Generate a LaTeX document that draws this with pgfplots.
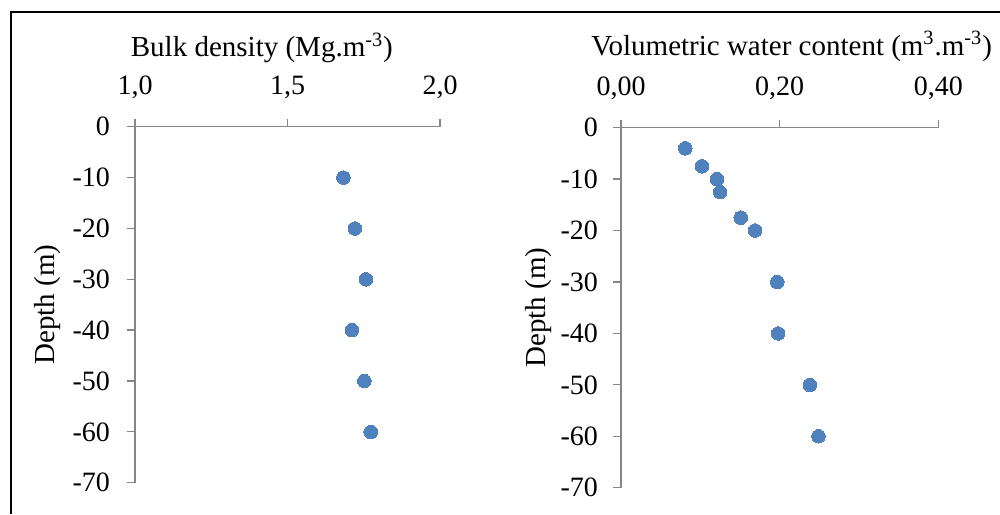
\documentclass[border=0pt]{standalone}
\usepackage{fontspec}
\setmainfont{Liberation Serif}
\usepackage{pgfplots}
\pgfplotsset{compat=1.18}
\definecolor{ptblue}{RGB}{79,129,189}
\definecolor{axgray}{RGB}{134,134,134}

\pgfplotsset{
  depthaxis/.style={
    scale only axis,
    axis x line=top, axis y line=left,
    axis line style={-, axgray, line width=0.65pt},
    every tick/.style={axgray, line width=0.65pt},
    tick align=outside, major tick length=4pt,
    ymin=-70, ymax=0,
    ytick={-70,-60,...,0},
    yticklabels={-70,-60,-50,-40,-30,-20,-10,0},
    tick label style={font=\fontsize{14}{16}\selectfont},
    xticklabel style={anchor=base, yshift=12pt},
    label style={font=\fontsize{14.5}{17}\selectfont},
    ylabel={Depth (m)},
    y label style={at={(axis description cs:0,0.5)}, anchor=base, rotate=0},
    clip=false,
  },
  ptstyle/.style={only marks, mark=*, mark size=3.4pt,
    mark options={fill=ptblue, draw=ptblue, line width=0pt}},
}

\begin{document}
\begin{tikzpicture}
\useasboundingbox (0,0) rectangle (500pt,257pt);
% frame (only left and top edges are visible)
\draw[black, line width=0.7pt] (5.5pt,0pt) -- (5.5pt,251pt) -- (500pt,251pt);

% bulk density
\begin{axis}[depthaxis,
  at={(67.5pt,15.65pt)}, anchor=south west,
  width=152.5pt, height=178pt,
  xmin=1, xmax=2, xtick={1,1.5,2}, xticklabels={{1,0},{1,5},{2,0}},
  yticklabel style={xshift=-5pt},
  xlabel={Bulk density (Mg.m\textsuperscript{-3})},
  x label style={at={(axis description cs:0.416,1)}, anchor=base, yshift=35pt},
  y label style={yshift=40pt},
]
\addplot[ptstyle] coordinates {
  (1.683,-10) (1.721,-20) (1.757,-30) (1.711,-40) (1.752,-50) (1.773,-60)
};
\end{axis}

% volumetric water content
\begin{axis}[depthaxis,
  at={(310.5pt,13.15pt)}, anchor=south west,
  width=158.65pt, height=180pt,
  xmin=0, xmax=0.4, xtick={0,0.2,0.4}, xticklabels={{0,00},{0,20},{0,40}},
  yticklabel style={xshift=-4pt},
  xlabel={Volumetric water content (m\textsuperscript{3}.m\textsuperscript{-3})},
  x label style={at={(axis description cs:0.538,1)}, anchor=base, yshift=36.3pt},
  y label style={yshift=38pt},
]
\addplot[ptstyle] coordinates {
  (0.081,-4) (0.102,-7.5) (0.121,-10) (0.125,-12.5) (0.151,-17.5)
  (0.169,-20) (0.197,-30) (0.198,-40) (0.238,-50) (0.249,-60)
};
\end{axis}
\end{tikzpicture}
\end{document}
